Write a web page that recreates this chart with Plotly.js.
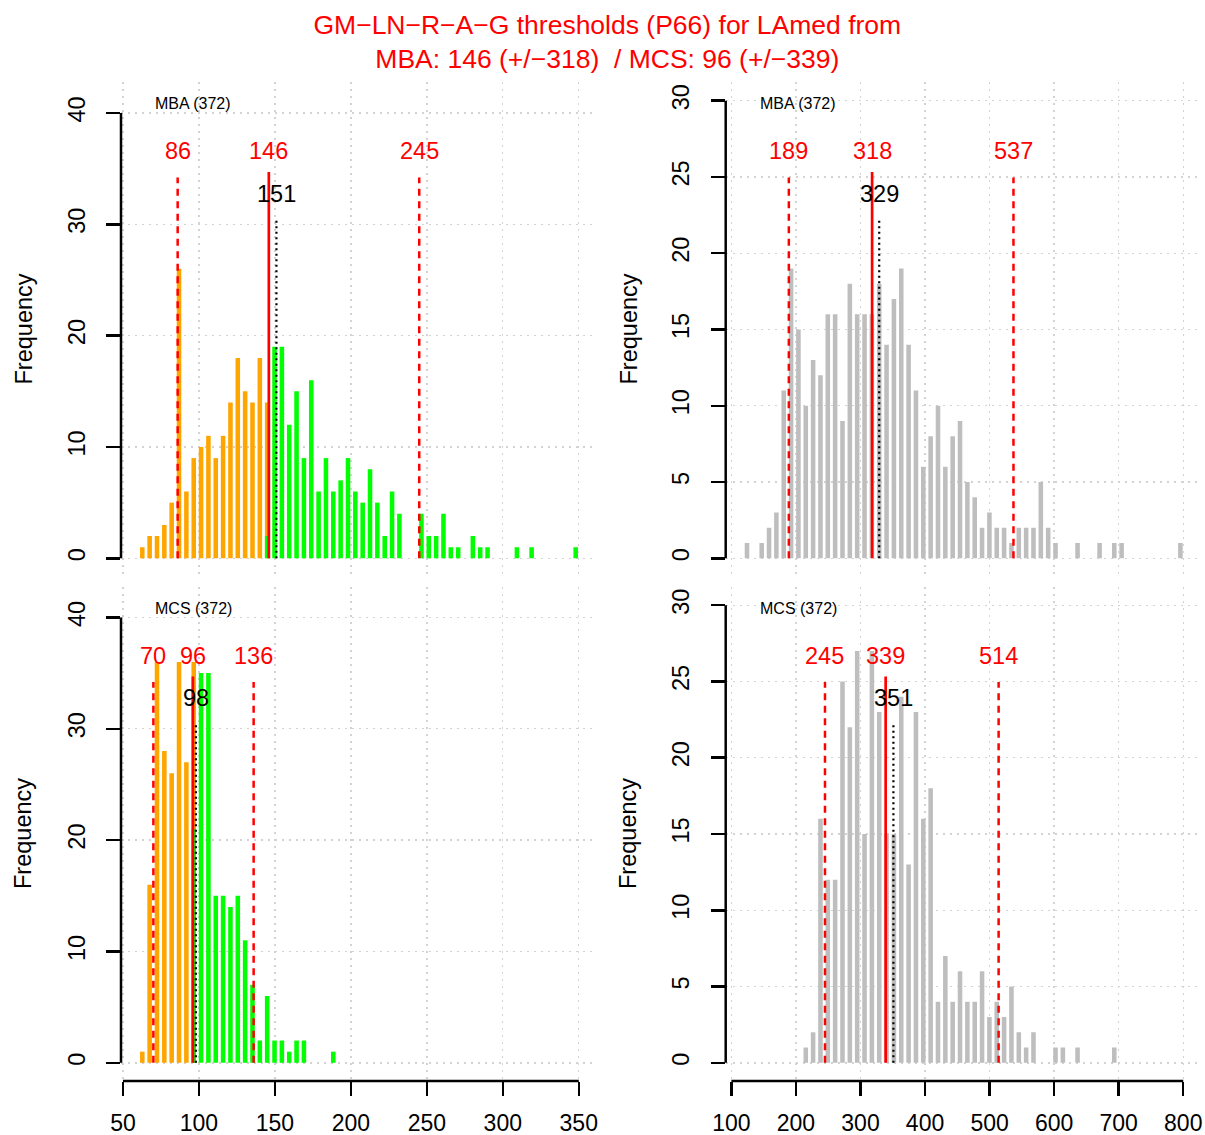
<!DOCTYPE html>
<html>
<head>
<meta charset="utf-8">
<script src="https://cdn.plot.ly/plotly-3.0.1.min.js"></script>
<style>html,body{margin:0;padding:0;background:#fff;}</style>
</head>
<body>
<div id="chart" style="width:1205px;height:1135px;"></div>
<script>
// ---------------- DATA ----------------
// histogram bins (60 equal bins per column)
const leftBinStart = 60.3, leftBinWidth = 4.835;     // GM (left column)
const rightBinStart = 118.5, rightBinWidth = 11.38;  // SD (right column)

// MBA, GM histogram: counts below (orange) / above (green) the threshold
const mbaBelow = [1,2,2,3,5,26,6,9,10,11,9,11,14,18,15,14,18,14,0,0,
                  0,0,0,0,0,0,0,0,0,0,0,0,0,0,0,0,0,0,0,0,
                  0,0,0,0,0,0,0,0,0,0,0,0,0,0,0,0,0,0,0,0];
const mbaAbove = [0,0,0,0,0,0,0,0,0,0,0,0,0,0,0,0,0,2,19,19,
                  12,15,9,16,6,9,6,7,9,6,5,8,5,2,6,4,0,0,4,2,
                  2,4,1,1,0,2,1,1,0,0,0,1,0,1,0,0,0,0,0,1];
// MCS, GM histogram
const mcsBelow = [1,16,36,28,26,36,27,36,0,0,0,0,0,0,0,0,0,0,0,0,
                  0,0,0,0,0,0,0,0,0,0,0,0,0,0,0,0,0,0,0,0,
                  0,0,0,0,0,0,0,0,0,0,0,0,0,0,0,0,0,0,0,0];
const mcsAbove = [0,0,0,0,0,0,0,21,35,35,15,15,14,15,11,7,2,6,2,2,
                  1,2,2,0,0,0,1,0,0,0,0,0,0,0,0,0,0,0,0,0,
                  0,0,0,0,0,0,0,0,0,0,0,0,0,0,0,0,0,0,0,0];
// MBA, SD histogram (grey)
const mbaSD = [1,0,1,2,3,11,19,15,10,13,12,16,16,9,18,16,16,16,18,14,
               17,19,14,11,6,8,10,6,8,9,5,4,2,3,2,2,1,2,2,2,
               5,2,1,0,0,1,0,0,1,0,1,1,0,0,0,0,0,0,0,1];
// MCS, SD histogram (grey)
const mcsSD = [0,0,0,0,0,0,0,0,1,2,16,12,12,25,22,27,15,27,23,15,
               15,24,13,23,16,18,4,7,4,6,4,4,6,3,4,3,5,2,1,2,
               0,0,1,1,0,1,0,0,0,0,1,0,0,0,0,0,0,0,0,0];

// thresholds [low, mid, high] and medians
const mbaGMThr = [86, 146, 245],  mbaGMMedian = 151;
const mcsGMThr = [70, 96, 136],   mcsGMMedian = 98;
const mbaSDThr = [189, 318, 537], mbaSDMedian = 329;
const mcsSDThr = [245, 339, 514], mcsSDMedian = 351;

const panelLabels = ['MBA (372)', 'MBA (372)', 'MCS (372)', 'MCS (372)'];
const titleLines = ['GM\u2212LN\u2212R\u2212A\u2212G thresholds (P66) for LAmed from',
                    'MBA: 146 (+/\u2212318)  / MCS: 96 (+/\u2212339)'];
const yLabel = 'Frequency';

const xTicksLeft = [50, 100, 150, 200, 250, 300, 350];
const xTicksRight = [100, 200, 300, 400, 500, 600, 700, 800];
const yTicksLeft = [0, 10, 20, 30, 40];
const yTicksRight = [0, 5, 10, 15, 20, 25, 30];
const yTopLeft = 41.1, yTopRight = 30;
const nBins = 60;

// ---------------- LAYOUT ----------------
const W = 1205, H = 1135;
const FONT = 'Liberation Sans, Arial, Helvetica, sans-serif';
const ORANGE = '#FFA500', GREEN = '#00FF00', GREY = '#BEBEBE', RED = '#FF0000';

function ext(a, b) { const s = b - a; return [a - 0.04 * s, b + 0.04 * s]; }
const xRangeL = ext(leftBinStart, leftBinStart + nBins * leftBinWidth);
const xRangeR = ext(rightBinStart, rightBinStart + nBins * rightBinWidth);
const yRangeL = ext(0, yTopLeft), yRangeR = ext(0, yTopRight);

const domXL = [121 / W, 597 / W], domXR = [725.7 / W, 1201.7 / W];
const domYT = [1 - 576.6 / H, 1 - 82.4 / H], domYB = [1 - 1081.1 / H, 1 - 586.9 / H];

function bar(xa, ya, start, width, counts, color) {
  return {type: 'bar', x0: start + width / 2, dx: width, y: counts,
          xaxis: xa, yaxis: ya, marker: {color: color, line: {width: 0}},
          hoverinfo: 'skip', showlegend: false};
}

const traces = [
  bar('x', 'y', leftBinStart, leftBinWidth, mbaBelow, ORANGE),
  bar('x', 'y', leftBinStart, leftBinWidth, mbaAbove, GREEN),
  bar('x2', 'y2', rightBinStart, rightBinWidth, mbaSD, GREY),
  bar('x3', 'y3', leftBinStart, leftBinWidth, mcsBelow, ORANGE),
  bar('x3', 'y3', leftBinStart, leftBinWidth, mcsAbove, GREEN),
  bar('x4', 'y4', rightBinStart, rightBinWidth, mcsSD, GREY)
];

const gridCommon = {showgrid: true, gridcolor: '#D3D3D3', gridwidth: 1.4, griddash: '2px,5px',
                    zeroline: false, showline: false, fixedrange: true};
function xAxis(dom, range, ticks, anchor, showLabels) {
  return Object.assign({}, gridCommon, {
    domain: dom, range: range, anchor: anchor, tickmode: 'array', tickvals: ticks,
    ticktext: ticks.map(String), showticklabels: showLabels,
    ticks: showLabels ? 'outside' : '', ticklen: 14, tickwidth: 2.5, tickcolor: '#000',
    ticklabelstandoff: 7,
    tickfont: {family: FONT, size: 23, color: '#000'}
  });
}
function yAxis(dom, range, ticks, anchor) {
  return Object.assign({}, gridCommon, {
    domain: dom, range: range, anchor: anchor, tickmode: 'array', tickvals: ticks,
    ticktext: ticks.map(String), ticks: 'outside', ticklen: 14, tickwidth: 2.5, tickcolor: '#000',
    tickangle: -90, ticklabelstandoff: 12,
    tickfont: {family: FONT, size: 23.5, color: '#000'}
  });
}

const shapes = [], annotations = [];
function panel(xa, ya, yTop, thr, median, label, yTicks, xTicks) {
  const xd = xa + ' domain', yd = ya + ' domain';
  // y axis line (R style: only over the tick span)
  shapes.push({type: 'line', xref: xd, x0: 0, x1: 0, yref: ya, y0: yTicks[0], y1: yTicks[yTicks.length - 1],
               line: {color: '#000', width: 2.5}});
  if (xTicks) {
    shapes.push({type: 'line', xref: xa, x0: xTicks[0], x1: xTicks[xTicks.length - 1], yref: yd, y0: 0, y1: 0,
                 line: {color: '#000', width: 2.5}});
  }
  // threshold lines
  [thr[0], thr[2]].forEach(v => shapes.push({type: 'line', xref: xa, yref: ya, x0: v, x1: v, y0: 0, y1: 0.832 * yTop,
      line: {color: RED, width: 2.5, dash: '7px,5.5px'}}));
  shapes.push({type: 'line', xref: xa, yref: ya, x0: thr[1], x1: thr[1], y0: 0, y1: 0.844 * yTop,
      line: {color: RED, width: 2.7}});
  shapes.push({type: 'line', xref: xa, yref: ya, x0: median, x1: median, y0: 0, y1: 0.742 * yTop,
      line: {color: '#000', width: 2.2, dash: '2px,3.5px'}});
  thr.forEach(v => annotations.push({xref: xa, yref: ya, x: v, y: 0.89 * yTop, text: String(v),
      showarrow: false, xanchor: 'center', yanchor: 'middle', font: {family: FONT, size: 23.5, color: RED}}));
  annotations.push({xref: xa, yref: ya, x: median, y: 0.797 * yTop, text: String(median),
      showarrow: false, xanchor: 'center', yanchor: 'middle', font: {family: FONT, size: 23.5, color: '#000'}});
  annotations.push({xref: xd, yref: ya, x: 0.068, y: yTop, yshift: -3, text: label, showarrow: false,
      xanchor: 'left', yanchor: 'middle', font: {family: FONT, size: 16, color: '#000'}});
}
panel('x', 'y', yTopLeft, mbaGMThr, mbaGMMedian, panelLabels[0], yTicksLeft, null);
panel('x2', 'y2', yTopRight, mbaSDThr, mbaSDMedian, panelLabels[1], yTicksRight, null);
panel('x3', 'y3', yTopLeft, mcsGMThr, mcsGMMedian, panelLabels[2], yTicksLeft, xTicksLeft);
panel('x4', 'y4', yTopRight, mcsSDThr, mcsSDMedian, panelLabels[3], yTicksRight, xTicksRight);

// "Frequency" labels
[[23, domYT], [628, domYT], [23, domYB], [628, domYB]].forEach(([px, d]) => {
  annotations.push({xref: 'paper', yref: 'paper', x: px / W, y: (d[0] + d[1]) / 2, text: yLabel,
      textangle: -90, showarrow: false, xanchor: 'center', yanchor: 'middle',
      font: {family: FONT, size: 23.5, color: '#000'}});
});

const layout = {
  width: W, height: H, margin: {l: 0, r: 0, t: 0, b: 0},
  paper_bgcolor: '#fff', plot_bgcolor: '#fff',
  barmode: 'overlay', bargap: 0.38, showlegend: false,
  title: {text: titleLines.join('<br>'), x: 0.504, xanchor: 'center', y: 1 - 33.5 / H, yanchor: 'middle',
          font: {family: FONT, size: 26.5, color: RED}},
  xaxis: xAxis(domXL, xRangeL, xTicksLeft, 'y', false),
  yaxis: yAxis(domYT, yRangeL, yTicksLeft, 'x'),
  xaxis2: xAxis(domXR, xRangeR, xTicksRight, 'y2', false),
  yaxis2: yAxis(domYT, yRangeR, yTicksRight, 'x2'),
  xaxis3: xAxis(domXL, xRangeL, xTicksLeft, 'y3', true),
  yaxis3: yAxis(domYB, yRangeL, yTicksLeft, 'x3'),
  xaxis4: xAxis(domXR, xRangeR, xTicksRight, 'y4', true),
  yaxis4: yAxis(domYB, yRangeR, yTicksRight, 'x4'),
  shapes: shapes, annotations: annotations
};

Plotly.newPlot('chart', traces, layout, {displayModeBar: false, staticPlot: true});
</script>
</body>
</html>
